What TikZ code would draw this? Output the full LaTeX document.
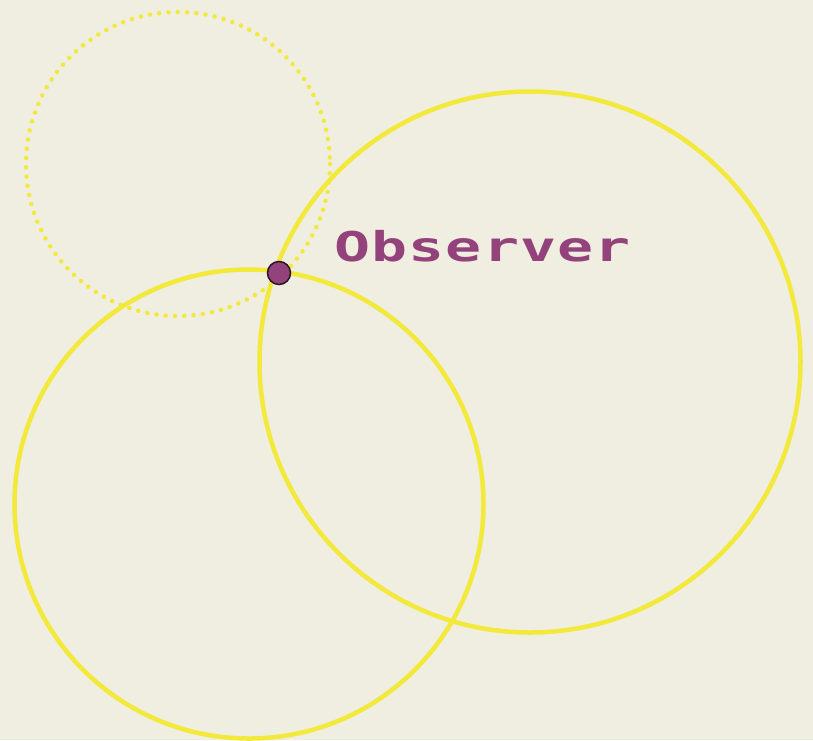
\documentclass[tikz,border=0pt]{standalone}
\usepackage{fontspec}
\newfontfamily\obsfont[LetterSpace=2]{DejaVu Sans Mono}
\definecolor{bg}{HTML}{EFEEE0}
\definecolor{ring}{HTML}{F2E93A}
\definecolor{obs}{HTML}{94427C}
\begin{document}
\begin{tikzpicture}[x=1pt,y=-1pt,
  ringline/.style={draw=ring,line width=4.5pt},
  dotring/.style={draw=ring,line width=4.5pt,line cap=round,dash pattern=on 0pt off 9.3pt}]
\fill[bg] (0,0) rectangle (813,740);
\useasboundingbox (0,0) rectangle (813,740);
\draw[dotring] (178,164) circle (152);
\draw[ringline] (530,362) circle (270.5);
\draw[ringline] (249,504) circle (234.5);
\node[circle,fill=obs,draw=black!70!obs,line width=1.5pt,minimum size=23pt,inner sep=0pt] (o) at (279,273) {};
\node[anchor=base west,inner sep=0pt,text=obs,xscale=1.46,font=\obsfont\bfseries\fontsize{41}{41}\selectfont] (lbl) at (334,261) {Observer};
\end{tikzpicture}
\end{document}
